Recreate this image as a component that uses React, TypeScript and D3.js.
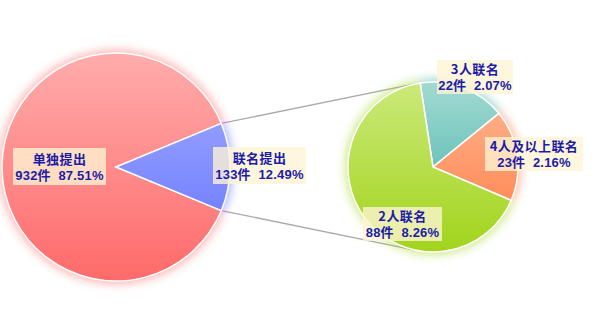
import React from "react";
import * as d3 from "d3";

const mainCats = ["单独提出", "联名提出"];
const mainCounts = [932, 133];
const mainPcts = ["87.51%", "12.49%"];

const subCats = ["3人联名", "4人及以上联名", "2人联名"];
const subCounts = [22, 23, 88];
const subPcts = ["2.07%", "2.16%", "8.26%"];

const W = 600, H = 336;
const L = { cx: 116, cy: 167, r: 114 };
const R = { cx: 433, cy: 167, r: 85 };

const mainColors = [["#ffacac", "#ff6a6a"], ["#aab2ff", "#5d6dff"]];
const subColors = [["#a2dad2", "#38aca4"], ["#ffb894", "#ff7a42"], ["#cbe97a", "#a2d41c"]];

export default function App() {
  const half = (mainCounts[1] / (mainCounts[0] + mainCounts[1])) * Math.PI;
  const pieL = d3.pie<number>().sort(null)
    .startAngle(Math.PI / 2 + half)
    .endAngle(Math.PI / 2 + half + 2 * Math.PI);
  const arcsL = pieL(mainCounts);
  const arcL = d3.arc<d3.PieArcDatum<number>>().innerRadius(0).outerRadius(L.r);
  const glowL = d3.arc<d3.PieArcDatum<number>>().innerRadius(0).outerRadius(L.r + 3);

  const start = (-8.7 * Math.PI) / 180;
  const pieR = d3.pie<number>().sort(null).startAngle(start).endAngle(start + 2 * Math.PI);
  const arcsR = pieR(subCounts);
  const arcR = d3.arc<d3.PieArcDatum<number>>().innerRadius(0).outerRadius(R.r);
  const glowR = d3.arc<d3.PieArcDatum<number>>().innerRadius(0).outerRadius(R.r + 3);

  const pt = (a: number) => [L.cx + L.r * Math.sin(a), L.cy - L.r * Math.cos(a)];
  const pA = pt(Math.PI / 2 - half);
  const pB = pt(Math.PI / 2 + half);
  const tangent = (p: number[], upper: boolean) => {
    const dx = R.cx - p[0], dy = R.cy - p[1];
    const d = Math.hypot(dx, dy);
    const base = Math.atan2(dy, dx);
    const off = Math.asin(R.r / d);
    const ang = upper ? base - off : base + off;
    const len = Math.sqrt(d * d - R.r * R.r);
    return [p[0] + len * Math.cos(ang), p[1] + len * Math.sin(ang)];
  };
  const tA = tangent(pA, true);
  const tB = tangent(pB, false);

  const labelsL = [
    { x: 59.5, y: 148, w: 93 },
    { x: 259.5, y: 147, w: 93 },
  ];
  const labelsR = [
    { x: 475, y: 60, w: 76 },
    { x: 534, y: 137, w: 98 },
    { x: 402.5, y: 207, w: 79 },
  ];

  const font = "'Noto Sans CJK SC', sans-serif";
  const font2 = "'Liberation Sans', 'Noto Sans CJK SC', sans-serif";
  const Label = ({ x, y, w, l1, l2, h }: any) => (
    <g>
      <rect x={x - w / 2} y={y} width={w} height={h} fill="rgb(255,245,212)" fillOpacity={0.78} />
      <text x={x} y={y + h / 2 - 3} textAnchor="middle" fontFamily={font} fontSize={13} fontWeight={700} fill="#1c1ca8" letterSpacing={0.4}>{l1}</text>
      <text x={x} y={y + h / 2 + 13} textAnchor="middle" fontFamily={font2} fontSize={13} fontWeight={700} fill="#1c1ca8" letterSpacing={0.2} style={{ whiteSpace: "pre" }}>{l2}</text>
    </g>
  );

  return (
    <svg width={W} height={H} style={{ position: "absolute", left: 0, top: 0 }}>
      <defs>
        <filter id="glow" x="-20%" y="-20%" width="140%" height="140%">
          <feGaussianBlur stdDeviation="5" />
        </filter>
        {mainColors.map((c, i) => (
          <linearGradient key={i} id={`gl${i}`} gradientUnits="userSpaceOnUse" x1={0} y1={-L.r} x2={0} y2={L.r}>
            <stop offset="0" stopColor={c[0]} />
            <stop offset="1" stopColor={c[1]} />
          </linearGradient>
        ))}
        {subColors.map((c, i) => (
          <linearGradient key={i} id={`gr${i}`} gradientUnits="userSpaceOnUse" x1={0} y1={-R.r} x2={0} y2={R.r}>
            <stop offset="0" stopColor={c[0]} />
            <stop offset="1" stopColor={c[1]} />
          </linearGradient>
        ))}
      </defs>
      <rect width={W} height={H} fill="#fff" />
      <line x1={pA[0]} y1={pA[1]} x2={tA[0]} y2={tA[1]} stroke="#aaa" strokeWidth={1.3} />
      <line x1={pB[0]} y1={pB[1]} x2={tB[0]} y2={tB[1]} stroke="#aaa" strokeWidth={1.3} />
      <g transform={`translate(${L.cx},${L.cy})`}>
        <g filter="url(#glow)" opacity={0.5}>
          {arcsL.map((a, i) => (
            <path key={i} d={glowL(a) || ""} fill={mainColors[i][1]} />
          ))}
        </g>
        {arcsL.map((a, i) => (
          <path key={i} d={arcL(a) || ""} fill={`url(#gl${i})`} stroke="#fff" strokeWidth={1.5} />
        ))}
      </g>
      <g transform={`translate(${R.cx},${R.cy})`}>
        <g filter="url(#glow)" opacity={0.5}>
          {arcsR.map((a, i) => (
            <path key={i} d={glowR(a) || ""} fill={subColors[i][1]} />
          ))}
        </g>
        {arcsR.map((a, i) => (
          <path key={i} d={arcR(a) || ""} fill={`url(#gr${i})`} stroke="#fff" strokeWidth={1.5} />
        ))}
      </g>
      {labelsL.map((p, i) => (
        <Label key={i} x={p.x} y={p.y} w={p.w} h={37} l1={mainCats[i]} l2={`${mainCounts[i]}件  ${mainPcts[i]}`} />
      ))}
      {labelsR.map((p, i) => (
        <Label key={i} x={p.x} y={p.y} w={p.w} h={34} l1={subCats[i]} l2={`${subCounts[i]}件  ${subPcts[i]}`} />
      ))}
    </svg>
  );
}
